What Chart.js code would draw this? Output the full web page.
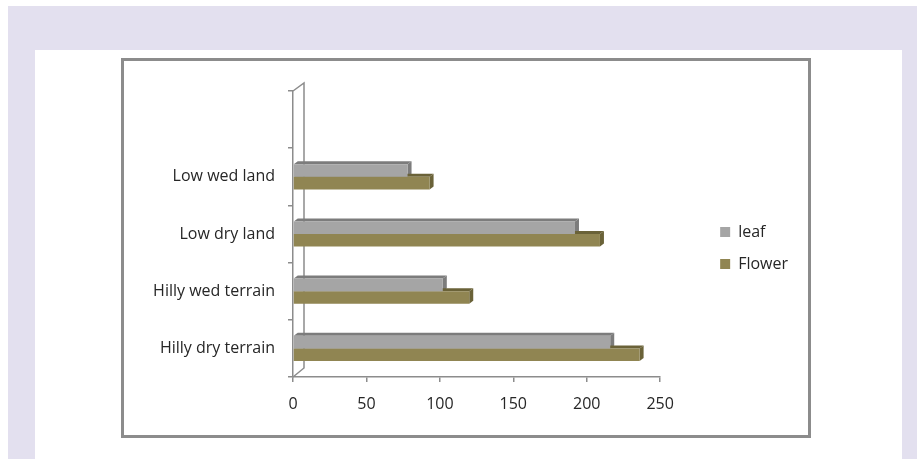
<!DOCTYPE html>
<html>
<head>
<meta charset="utf-8">
<script src="https://cdn.jsdelivr.net/npm/chart.js@4.4.1/dist/chart.umd.min.js"></script>
<style>
  html, body { margin: 0; padding: 0; background: #ffffff; }
  body { width: 917px; height: 459px; position: relative; overflow: hidden; }
  #band { position: absolute; left: 8px; top: 6px; width: 909px; height: 453px; background: #e3e0ef; }
  #panel { position: absolute; left: 35px; top: 50px; width: 867px; height: 409px; background: #ffffff; }
  #frame { position: absolute; left: 121px; top: 58px; width: 684px; height: 374px;
           border: 3px solid #8c8c8c; background: #ffffff; }
  #frame canvas { display: block; }
</style>
</head>
<body>
<div id="band"></div>
<div id="panel"></div>
<div id="frame"><canvas id="chart" width="684" height="374"></canvas></div>
<script>
// Sites, listed from the bottom of the axis upward (the top slot is left empty)
const categories = ['Hilly dry terrain', 'Hilly wed terrain', 'Low dry land', 'Low wed land', ''];
const leafValues = [216, 102, 192, 78, null];
const flowerValues = [236, 120, 209, 93, null];
const xTickValues = [0, 50, 100, 150, 200, 250];

const axisGray = '#8c8c8c';
const textColor = '#262626';
const fontFamily = "'Open Sans', 'Noto Sans', sans-serif";

// Depth faces (top and right side) behind each bar's front face
const faceShade = ['#7c7c7c', '#6a6238'];
const barDepth = 4;
const barDepthPlugin = {
  id: 'barDepth',
  beforeDatasetsDraw(chart) {
    const ctx = chart.ctx;
    const area = chart.chartArea;
    ctx.save();
    // back wall edge of the category axis
    ctx.strokeStyle = axisGray;
    ctx.lineWidth = 1.5;
    ctx.beginPath();
    ctx.moveTo(area.left, area.top);
    ctx.lineTo(area.left + 11, area.top - 8);
    ctx.lineTo(area.left + 11, area.bottom - 9);
    ctx.lineTo(area.left, area.bottom);
    ctx.stroke();

    chart.data.datasets.forEach((ds, i) => {
      const meta = chart.getDatasetMeta(i);
      meta.data.forEach((el, j) => {
        if (ds.data[j] == null) return;
        const p = el.getProps(['x', 'y', 'base', 'height'], true);
        const top = p.y - p.height / 2;
        const bottom = p.y + p.height / 2;
        ctx.fillStyle = faceShade[i];
        ctx.beginPath();
        ctx.moveTo(p.base, top);
        ctx.lineTo(p.x, top);
        ctx.lineTo(p.x + barDepth, top - barDepth + 1);
        ctx.lineTo(p.base + barDepth, top - barDepth + 1);
        ctx.closePath();
        ctx.fill();
        ctx.beginPath();
        ctx.moveTo(p.x, top);
        ctx.lineTo(p.x + barDepth, top - barDepth + 1);
        ctx.lineTo(p.x + barDepth, bottom - barDepth + 1);
        ctx.lineTo(p.x, bottom);
        ctx.closePath();
        ctx.fill();
      });
    });
    ctx.restore();
  }
};

new Chart(document.getElementById('chart'), {
  type: 'bar',
  data: {
    labels: categories,
    datasets: [
      { label: 'leaf', data: leafValues, backgroundColor: '#a5a5a5', borderWidth: 0 },
      { label: 'Flower', data: flowerValues, backgroundColor: '#908552', borderWidth: 0 }
    ]
  },
  options: {
    indexAxis: 'y',
    responsive: false,
    animation: false,
    events: [],
    categoryPercentage: 0.44,
    barPercentage: 1.0,
    layout: { padding: { left: 0, top: 0, right: 10, bottom: 0 } },
    scales: {
      x: {
        type: 'linear',
        min: 0,
        max: 250,
        afterBuildTicks(scale) { scale.ticks = xTickValues.map((v) => ({ value: v })); },
        afterFit(scale) { scale.height = 58; },
        grid: { drawOnChartArea: false, drawTicks: true, tickLength: 5, color: axisGray, lineWidth: 1.5 },
        border: { display: true, color: axisGray, width: 1.5 },
        ticks: { color: textColor, padding: 13, font: { family: fontFamily, size: 16 } }
      },
      topGap: {
        type: 'linear',
        position: 'top',
        display: true,
        afterFit(scale) { scale.height = 30; },
        grid: { display: false },
        border: { display: false },
        ticks: { display: false }
      },
      y: {
        type: 'category',
        reverse: true,
        afterFit(scale) { scale.width = 169; },
        grid: { drawOnChartArea: false, drawTicks: true, tickLength: 5, color: axisGray, lineWidth: 1.5, offset: true },
        border: { display: true, color: axisGray, width: 1.5 },
        ticks: { color: textColor, padding: 13, font: { family: fontFamily, size: 16 } }
      },
      spacer: {
        type: 'linear',
        position: 'right',
        display: true,
        afterFit(scale) { scale.width = 44; },
        grid: { display: false },
        border: { display: false },
        ticks: { display: false }
      }
    },
    plugins: {
      legend: {
        position: 'right',
        labels: {
          boxWidth: 10,
          boxHeight: 10,
          padding: 16,
          color: textColor,
          font: { family: fontFamily, size: 16 }
        }
      },
      tooltip: { enabled: false }
    }
  },
  plugins: [barDepthPlugin]
});
</script>
</body>
</html>
